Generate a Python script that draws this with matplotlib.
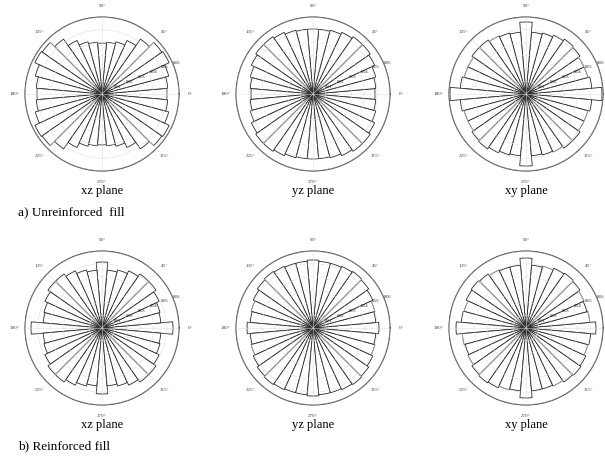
import numpy as np
import matplotlib
matplotlib.use("Agg")
import matplotlib.pyplot as plt

plt.rcParams["font.family"] = ["Liberation Serif", "DejaVu Serif"]

# bin centres (deg) for one half of the rose; orientation data is axial, so the
# other half repeats it
bin_deg = np.arange(0, 180, 10)

# relative frequency per 10 deg bin
xz_unreinf = [0.0506, 0.0514, 0.0538, 0.0577, 0.0569, 0.0522, 0.0460, 0.0421, 0.0405,
              0.0397, 0.0405, 0.0421, 0.0460, 0.0522, 0.0569, 0.0577, 0.0538, 0.0514]
yz_unreinf = [0.0483, 0.0491, 0.0506, 0.0530, 0.0545, 0.0545, 0.0530, 0.0514, 0.0506,
              0.0506, 0.0506, 0.0514, 0.0530, 0.0545, 0.0545, 0.0530, 0.0506, 0.0491]
xy_unreinf = [0.0592, 0.0514, 0.0499, 0.0499, 0.0514, 0.0522, 0.0506, 0.0491, 0.0483,
              0.0561, 0.0483, 0.0491, 0.0499, 0.0514, 0.0514, 0.0499, 0.0499, 0.0514]
xz_reinf = [0.0553, 0.0460, 0.0468, 0.0491, 0.0514, 0.0514, 0.0491, 0.0468, 0.0452,
            0.0514, 0.0452, 0.0468, 0.0491, 0.0514, 0.0514, 0.0491, 0.0468, 0.0460]
yz_reinf = [0.0514, 0.0491, 0.0499, 0.0514, 0.0530, 0.0538, 0.0530, 0.0522, 0.0522,
            0.0530, 0.0522, 0.0522, 0.0530, 0.0538, 0.0530, 0.0514, 0.0499, 0.0491]
xy_reinf = [0.0545, 0.0499, 0.0491, 0.0499, 0.0514, 0.0522, 0.0514, 0.0499, 0.0491,
            0.0545, 0.0491, 0.0491, 0.0499, 0.0514, 0.0522, 0.0514, 0.0499, 0.0506]

r_ticks = [0.01, 0.02, 0.03, 0.04, 0.05, 0.06]
theta_ticks = [0, 45, 90, 135, 180, 225, 270, 315]
plane_names = ["xz plane", "yz plane", "xy plane"]
row_names = ["a) Unreinforced  fill", "b) Reinforced fill"]

W, H = 605, 471
centres_x = [102, 313, 526]
centres_y = [94, 328]
R = 77


def rose(ax, half, show_zero=True):
    half = np.asarray(half)
    vals = np.concatenate([half, half])
    th = np.deg2rad(np.concatenate([bin_deg, bin_deg + 180]))
    ax.set_axisbelow(False)
    ax.bar(th, vals, width=np.deg2rad(10), bottom=0, color="white",
           edgecolor="#2a2a2a", linewidth=0.6, zorder=0.5)
    ax.set_ylim(0, r_ticks[-1])
    ax.set_rticks(r_ticks)
    ax.set_yticklabels([f"{t:.2f}" for t in r_ticks], fontsize=3.2, color="#222222")
    ax.set_rlabel_position(22.5)
    labels = [f"{t}°" for t in theta_ticks]
    if not show_zero:
        labels[0] = ""
    ax.set_thetagrids(theta_ticks, labels, fontsize=3.6, color="#444444")
    ax.tick_params(axis="x", pad=-2.6)
    ax.grid(color="#dcdcdc", linewidth=0.45, alpha=0.8)
    ax.spines["polar"].set_color("#444444")
    ax.spines["polar"].set_linewidth(0.8)


fig = plt.figure(figsize=(W / 100, H / 100), dpi=100)
data = [[xz_unreinf, yz_unreinf, xy_unreinf], [xz_reinf, yz_reinf, xy_reinf]]
for i, row in enumerate(data):
    for j, half in enumerate(row):
        cx, cy = centres_x[j], centres_y[i]
        ax = fig.add_axes([(cx - R) / W, (H - cy - R) / H, 2 * R / W, 2 * R / H],
                          projection="polar")
        rose(ax, half, show_zero=(j != 2))
        fig.text(cx / W, 1 - (cy + 97) / H, plane_names[j], ha="center", va="center",
                 fontsize=9)
    fig.text(18 / W, 1 - (cy + 118) / H, row_names[i], ha="left", va="center",
             fontsize=9.5)

fig.savefig("out.png", dpi=100)
